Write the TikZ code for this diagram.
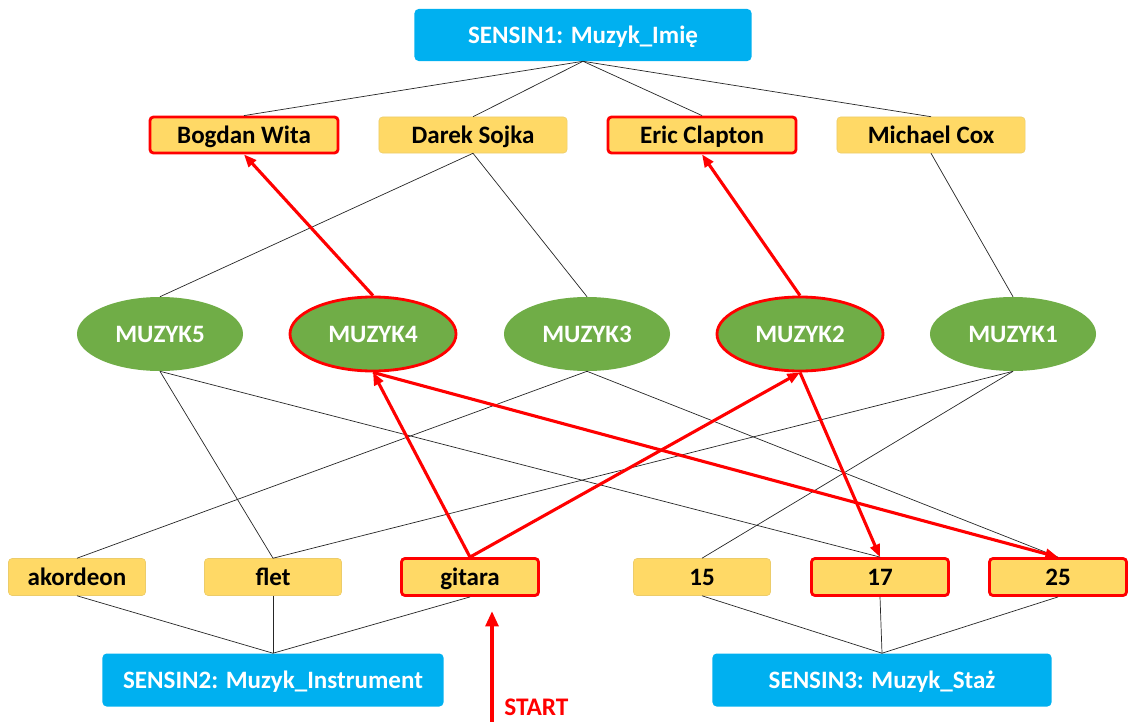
\documentclass[tikz,border=0pt]{standalone}
\usepackage{fontspec}
\setmainfont{Carlito}
\usetikzlibrary{arrows.meta, shapes.geometric}

\definecolor{sensinblue}{HTML}{00B0F0}
\definecolor{valyellow}{HTML}{FFD966}
\definecolor{neurongreen}{HTML}{70AD47}

\tikzset{
  labelfont/.style={font=\bfseries\fontsize{17.8}{20}\selectfont, text height=11.5pt, text depth=0pt},
  sensin/.style={rectangle, rounded corners=3pt, fill=sensinblue, text=white, labelfont,
    minimum height=1.3cm, inner sep=0pt},
  valbox/.style={rectangle, rounded corners=2.5pt, fill=valyellow, draw=valyellow!85!gray,
    line width=0.4pt, text=black, labelfont, inner sep=0pt},
  namebox/.style={valbox, minimum width=4.7cm, minimum height=0.9cm},
  featbox/.style={valbox, minimum width=3.425cm, minimum height=0.925cm},
  neuron/.style={ellipse, fill=neurongreen, text=white, labelfont,
    minimum width=4.15cm, minimum height=1.85cm, inner sep=0pt},
  active/.style={draw=red, line width=2pt},
  link/.style={black!85, line width=0.5pt},
  redflow/.style={red, line width=2.2pt, -{Triangle[length=9pt, width=7pt]}}
}

\begin{document}
\begin{tikzpicture}[x=0.025cm, y=-0.025cm]
    \useasboundingbox (0,0) rectangle (1129,722);

    % Sensor on names
    \node[sensin, minimum width=8.425cm] (s1) at (583,35) {SENSIN1: Muzyk\_Imię};

    % Names
    \node[namebox, active] (bogdan) at (244,135) {Bogdan Wita};
    \node[namebox] (darek) at (473,135) {Darek Sojka};
    \node[namebox, active] (eric) at (702,135) {Eric Clapton};
    \node[namebox] (michael) at (931,135) {Michael Cox};

    % Neurons
    \node[neuron] (m5) at (160,334) {MUZYK5};
    \node[neuron, active] (m4) at (373,334) {MUZYK4};
    \node[neuron] (m3) at (587,334) {MUZYK3};
    \node[neuron, active] (m2) at (800,334) {MUZYK2};
    \node[neuron] (m1) at (1013,334) {MUZYK1};

    % Instruments
    \node[featbox] (akordeon) at (77,577) {akordeon};
    \node[featbox] (flet) at (273,577) {flet};
    \node[featbox, active] (gitara) at (470,577) {gitara};

    % Years
    \node[featbox] (y15) at (702,577) {15};
    \node[featbox, active] (y17) at (880,577) {17};
    \node[featbox, active] (y25) at (1058,577) {25};

    % Sensors on instrument and years
    \node[sensin, minimum width=8.525cm, minimum height=1.325cm] (s2) at (273,680) {SENSIN2: Muzyk\_Instrument};
    \node[sensin, minimum width=8.475cm, minimum height=1.325cm] (s3) at (882,680) {SENSIN3: Muzyk\_Staż};

    % Sensor 1 to names
    \foreach \n in {bogdan, darek, eric, michael}
        \draw[link] (s1.south) -- (\n.north);

    % Names to neurons
    \draw[link] (darek.south) -- (m5.north);
    \draw[link] (darek.south) -- (m3.north);
    \draw[link] (michael.south) -- (m1.north);

    % Neurons to instruments and years
    \draw[link] (m5.south) -- (flet.north);
    \draw[link] (m5.south) -- (y17.north);
    \draw[link] (m3.south) -- (akordeon.north);
    \draw[link] (m3.south) -- (y25.north);
    \draw[link] (m1.south) -- (flet.north);
    \draw[link] (m1.south) -- (y15.north);

    % Values to sensors 2 and 3
    \foreach \n in {akordeon, flet, gitara}
        \draw[link] (\n.south) -- (s2.north);
    \foreach \n in {y15, y17, y25}
        \draw[link] (\n.south) -- (s3.north);

    % Activation path
    \draw[redflow] (gitara.north) -- (m4.south);
    \draw[redflow] (gitara.north) -- (m2.south);
    \draw[redflow] (m4.north) -- (bogdan.south);
    \draw[redflow] (m2.north) -- (eric.south);
    \draw[redflow] (m4.south) -- (y25.north);
    \draw[redflow] (m2.south) -- (y17.north);

    % Start
    \coordinate (startfoot) at (492,722);
    \coordinate (starttip) at (492,611);
    \draw[red, line width=3pt, -{Triangle[length=11pt, width=9pt]}] (startfoot) -- (starttip);
    \node[anchor=north west, inner sep=0pt, text=red, font=\bfseries\fontsize{18}{21}\selectfont] (start) at (504,699) {START};
\end{tikzpicture}
\end{document}
